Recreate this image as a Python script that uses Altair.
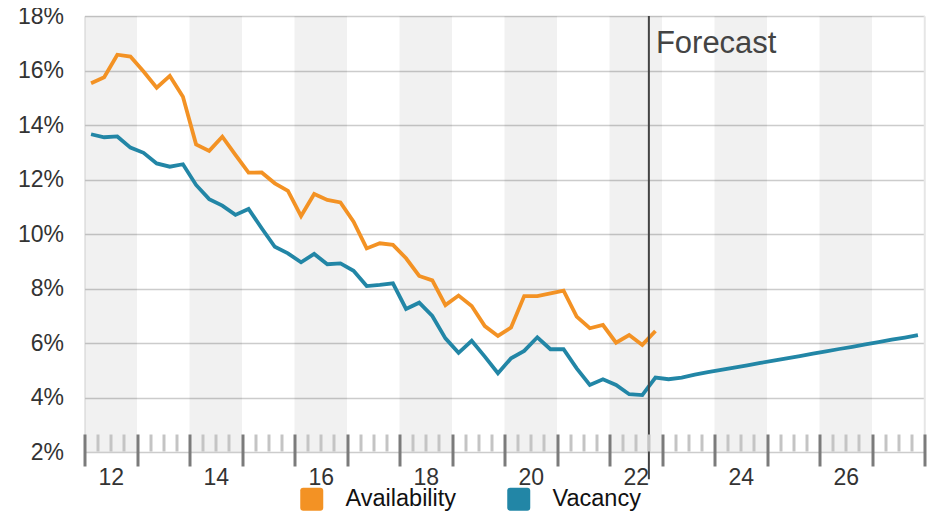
import altair as alt
import pandas as pd

# ---- data (quarterly, starting 2012 Q1) ----
availability = [15.53, 15.75, 16.58, 16.51, 15.96, 15.37, 15.80, 15.04,
                13.29, 13.05, 13.57, 12.90, 12.25, 12.26, 11.86, 11.58,
                10.66, 11.47, 11.25, 11.16, 10.45, 9.47, 9.66, 9.60,
                9.11, 8.46, 8.30, 7.39, 7.74, 7.36, 6.62, 6.26,
                6.57, 7.72, 7.72, 7.82, 7.92, 6.97, 6.54, 6.66,
                6.01, 6.29, 5.93, 6.44]
vacancy = [13.66, 13.55, 13.58, 13.17, 12.98, 12.59, 12.47, 12.56,
           11.80, 11.28, 11.04, 10.70, 10.92, 10.21, 9.53, 9.29,
           8.96, 9.27, 8.89, 8.92, 8.65, 8.09, 8.13, 8.19,
           7.25, 7.48, 6.99, 6.17, 5.64, 6.08, 5.50, 4.89,
           5.44, 5.71, 6.21, 5.77, 5.77, 5.07, 4.46, 4.67,
           4.46, 4.12, 4.09, 4.73, 4.67, 4.73, 4.84, 4.93,
           5.01, 5.10, 5.18, 5.27, 5.35, 5.44, 5.52, 5.61,
           5.69, 5.78, 5.86, 5.95, 6.03, 6.12, 6.20, 6.29]
series_names = ["Availability", "Vacancy"]
series_colors = ["#F39224", "#2286A6"]
first_year = 2012
last_year = 2028
band_years = [2012, 2014, 2016, 2018, 2020, 2022, 2024, 2026]
y_ticks = [2, 4, 6, 8, 10, 12, 14, 16, 18]
forecast_start = 2022.75
forecast_label = "Forecast"

major_ticks = list(range(first_year, last_year + 1))
minor_ticks = [y + q / 4 for y in range(first_year, last_year) for q in (1, 2, 3)]


def quarter_pos(i):
    return first_year + (i + 0.5) / 4


rows = []
for name, vals in zip(series_names, [availability, vacancy]):
    for i, v in enumerate(vals):
        rows.append({"series": name, "t": quarter_pos(i), "value": v})
df = pd.DataFrame(rows)

bands_df = pd.DataFrame({"start": band_years, "end": [y + 1 for y in band_years]})
fc_df = pd.DataFrame({"x": [forecast_start], "label": [forecast_label]})
edge_df = pd.DataFrame({"x": [last_year]})
legend_df = pd.DataFrame({"series": series_names})

xscale = alt.Scale(domain=[first_year, last_year], nice=False, zero=False)
yscale = alt.Scale(domain=[2, 18], nice=False, zero=False)

FONT = "Liberation Sans"
ROUNDED = ("M -0.74 -1 L 0.74 -1 Q 1 -1 1 -0.74 L 1 0.74 Q 1 1 0.74 1 "
           "L -0.74 1 Q -1 1 -1 0.74 L -1 -0.74 Q -1 -1 -0.74 -1 Z")

y_axis = alt.Axis(values=y_ticks, labelExpr="datum.value + '%'", domain=False,
                  ticks=False, grid=True, gridColor="#cccccc", gridWidth=1.5,
                  labelFontSize=23, labelColor="#333333", labelPadding=21,
                  labelFont=FONT, title=None)

major_axis = alt.Axis(orient="bottom", values=major_ticks, tickSize=32, tickWidth=3,
                      tickColor="#7b7b7b", domain=False, grid=False, offset=-18,
                      labelExpr="(datum.value % 2 == 0 && datum.value < 2028) ? format(datum.value - 2000, 'd') : ''",
                      labelOffset=26.25, labelPadding=0, labelFontSize=23,
                      labelColor="#333333", labelFlush=False, labelOverlap=False,
                      labelFont=FONT, title=None, zindex=1)

minor_axis = alt.Axis(orient="bottom", values=minor_ticks, tickSize=17, tickWidth=3,
                      tickColor="#c4c4c4", labels=False, domain=False, grid=False,
                      offset=-18, title=None, zindex=1)

bands = alt.Chart(bands_df).mark_rect(color="#000000", opacity=0.055).encode(
    x=alt.X("start:Q", scale=xscale, axis=minor_axis),
    x2="end:Q",
)

line_layers = []
for k, (name, col) in enumerate(zip(series_names, series_colors)):
    line_layers.append(
        alt.Chart(df).transform_filter(alt.datum.series == name)
        .mark_line(strokeWidth=3.8, color=col)
        .encode(
            x=alt.X("t:Q", scale=xscale, axis=major_axis if k == 0 else None),
            y=alt.Y("value:Q", scale=yscale, axis=y_axis),
        )
    )

legend_layer = alt.Chart(legend_df).mark_square(opacity=0).encode(
    x=alt.XDatum(first_year, axis=None),
    y=alt.YDatum(2, axis=y_axis),
    fill=alt.Fill("series:N",
                  scale=alt.Scale(domain=series_names, range=series_colors),
                  legend=alt.Legend(orient="none", legendX=215.5, legendY=471,
                                    direction="horizontal", title=None,
                                    symbolType=ROUNDED, symbolSize=529,
                                    symbolStrokeWidth=0, symbolOpacity=1,
                                    labelFontSize=23.5, labelColor="#111111",
                                    labelFont=FONT, labelOffset=22,
                                    columnPadding=50, padding=0)),
)

edge = alt.Chart(edge_df).mark_rule(color="#e6e6e6", strokeWidth=1.5).encode(
    x=alt.X("x:Q", scale=xscale, axis=None),
    y=alt.YDatum(18, axis=y_axis),
    y2=alt.Y2Datum(2),
)

rule = alt.Chart(fc_df).mark_rule(color="#444444", strokeWidth=2).encode(
    x=alt.X("x:Q", scale=xscale, axis=None),
    y=alt.YDatum(18, axis=y_axis),
    y2=alt.Y2Datum(1.0),
)

text = alt.Chart(fc_df).mark_text(align="left", baseline="alphabetic", dx=7, dy=37,
                                  fontSize=31, color="#444444", font=FONT).encode(
    x=alt.X("x:Q", scale=xscale, axis=None),
    y=alt.YDatum(18, axis=y_axis),
    text="label:N",
)

chart = alt.layer(bands, *line_layers, legend_layer, edge, rule, text).resolve_axis(x="independent").properties(
    width=840, height=436,
    autosize=alt.AutoSizeParams(type="none"),
    padding={"left": 76.5, "top": 8, "right": 2, "bottom": 60},
).configure_view(stroke=None).configure(font=FONT)

chart.save("out.html", embed_options={"renderer": "svg", "actions": False})
